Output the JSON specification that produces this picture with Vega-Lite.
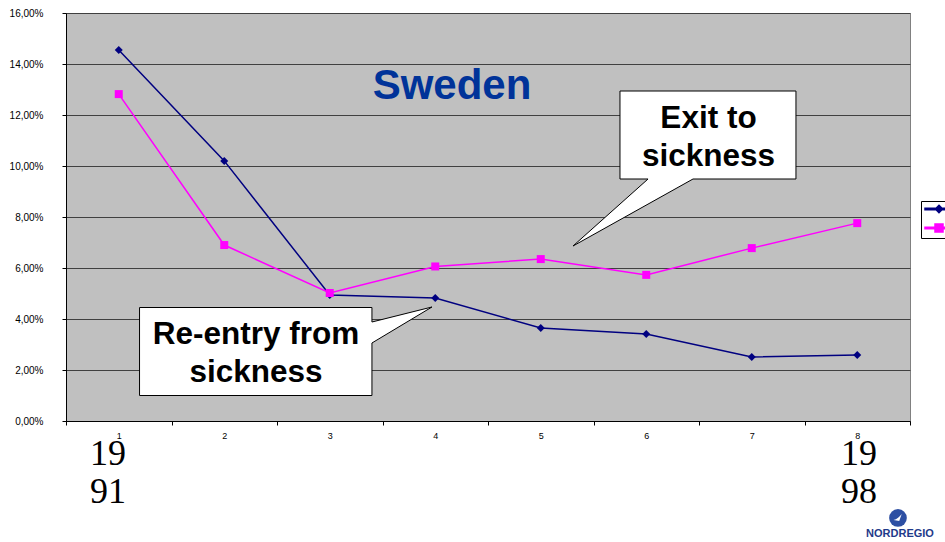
{
  "$schema": "https://vega.github.io/schema/vega-lite/v6.json",
  "width": 844,
  "height": 408,
  "autosize": {"type": "none"},
  "padding": {"left": 66, "top": 13, "right": 35, "bottom": 121},
  "background": "white",
  "config": {
    "locale": {"number": {"decimal": ",", "thousands": " ", "grouping": [3], "currency": ["", " kr"]}},
    "view": {"stroke": "#808080", "fill": "#C0C0C0", "strokeWidth": 1},
    "font": "Liberation Sans",
    "axis": {"labelFont": "Liberation Sans", "labelColor": "#000000", "domainColor": "#000000", "tickColor": "#000000"}
  },
  "datasets": {
    "series": [
      {"t": 1, "series": "Re-entry from sickness", "rate": 0.1455},
      {"t": 2, "series": "Re-entry from sickness", "rate": 0.1020},
      {"t": 3, "series": "Re-entry from sickness", "rate": 0.0494},
      {"t": 4, "series": "Re-entry from sickness", "rate": 0.0482},
      {"t": 5, "series": "Re-entry from sickness", "rate": 0.0365},
      {"t": 6, "series": "Re-entry from sickness", "rate": 0.0341},
      {"t": 7, "series": "Re-entry from sickness", "rate": 0.0251},
      {"t": 8, "series": "Re-entry from sickness", "rate": 0.0259},
      {"t": 1, "series": "Exit to sickness", "rate": 0.1282},
      {"t": 2, "series": "Exit to sickness", "rate": 0.0690},
      {"t": 3, "series": "Exit to sickness", "rate": 0.0502},
      {"t": 4, "series": "Exit to sickness", "rate": 0.0606},
      {"t": 5, "series": "Exit to sickness", "rate": 0.0635},
      {"t": 6, "series": "Exit to sickness", "rate": 0.0573},
      {"t": 7, "series": "Exit to sickness", "rate": 0.0678},
      {"t": 8, "series": "Exit to sickness", "rate": 0.0776}
    ],
    "callouts": [
      {"id": "exit", "i": 0, "px": 5.751, "py": 0.12941},
      {"id": "exit", "i": 1, "px": 7.419, "py": 0.12941},
      {"id": "exit", "i": 2, "px": 7.419, "py": 0.09490},
      {"id": "exit", "i": 3, "px": 6.443, "py": 0.09490},
      {"id": "exit", "i": 4, "px": 5.306, "py": 0.06863},
      {"id": "exit", "i": 5, "px": 6.017, "py": 0.09490},
      {"id": "exit", "i": 6, "px": 5.751, "py": 0.09490},
      {"id": "exit", "i": 7, "px": 5.751, "py": 0.12941},
      {"id": "reentry", "i": 0, "px": 1.197, "py": 0.04451},
      {"id": "reentry", "i": 1, "px": 3.400, "py": 0.04451},
      {"id": "reentry", "i": 2, "px": 3.400, "py": 0.03882},
      {"id": "reentry", "i": 3, "px": 3.969, "py": 0.04471},
      {"id": "reentry", "i": 4, "px": 3.400, "py": 0.03059},
      {"id": "reentry", "i": 5, "px": 3.400, "py": 0.01000},
      {"id": "reentry", "i": 6, "px": 1.197, "py": 0.01000},
      {"id": "reentry", "i": 7, "px": 1.197, "py": 0.04451}
    ],
    "notes": [
      {"kind": "title", "label": "Sweden", "px": 4.159, "py": 0.12627},
      {"kind": "callout", "label": "Exit to\nsickness", "px": 6.59, "py": 0.1149},
      {"kind": "callout", "label": "Re-entry from\nsickness", "px": 2.301, "py": 0.0302},
      {"kind": "year", "label": "19\n91", "px": 0.898, "py": -0.01725},
      {"kind": "year", "label": "19\n98", "px": 8.016, "py": -0.01725},
      {"kind": "logo", "label": "NORDREGIO", "px": 8.405, "py": -0.0455}
    ],
    "logo": [
      {"px": 8.386, "py": -0.038}
    ]
  },
  "layer": [
    {
      "data": {"name": "series"},
      "encoding": {
        "x": {
          "field": "t",
          "type": "ordinal",
          "scale": {"paddingInner": 0, "paddingOuter": 0},
          "axis": {"title": null, "labelAngle": 0, "tickBand": "extent", "tickSize": 4, "labelPadding": 6, "labelFontSize": 9, "grid": false}
        },
        "y": {
          "field": "rate",
          "type": "quantitative",
          "scale": {"domain": [0, 0.16]},
          "axis": {
            "title": null,
            "format": ".2%",
            "values": [0, 0.02, 0.04, 0.06, 0.08, 0.1, 0.12, 0.14, 0.16],
            "tickSize": 4,
            "labelPadding": 19,
            "labelFontSize": 10,
            "gridColor": "#404040",
            "gridWidth": 1,
            "gridOpacity": 1
          }
        },
        "color": {
          "field": "series",
          "type": "nominal",
          "scale": {"domain": ["Re-entry from sickness", "Exit to sickness"], "range": ["#000080", "#FF00FF"]},
          "legend": {
            "orient": "none",
            "legendX": 855,
            "legendY": 188,
            "title": null,
            "strokeColor": "#000000",
            "fillColor": "#FFFFFF",
            "padding": 3,
            "symbolSize": 64,
            "symbolOffset": 10,
            "labelExpr": "''",
            "labelOffset": 30,
            "labelFontSize": 8,
            "rowPadding": 5,
            "encode": {
              "symbols": {
                "update": {
                  "shape": {"signal": "datum.value == 'Exit to sickness' ? 'M-3.5,-0.19H3.5V0.19H-3.5ZM-1,-1H1V1H-1Z' : 'M-3.5,-0.19H3.5V0.19H-3.5ZM0,-0.9L0.9,0L0,0.9L-0.9,0Z'"},
                  "fill": {"scale": "color", "field": "value"},
                  "opacity": {"value": 1}
                }
              }
            }
          }
        }
      },
      "layer": [
        {"mark": {"type": "line", "strokeWidth": 1.5}},
        {
          "transform": [{"filter": "datum.series == 'Re-entry from sickness'"}],
          "mark": {"type": "point", "shape": "diamond", "filled": true, "opacity": 1, "size": 64}
        },
        {
          "transform": [{"filter": "datum.series == 'Exit to sickness'"}],
          "mark": {"type": "point", "shape": "square", "filled": true, "opacity": 1, "size": 64}
        }
      ]
    },
    {
      "encoding": {
        "x": {"field": "px", "type": "quantitative", "scale": {"domain": [0.5, 8.5], "nice": false, "zero": false}, "axis": null},
        "y": {"field": "py", "type": "quantitative", "scale": {"domain": [0, 0.16]}, "axis": {"title": null}}
      },
      "layer": [
        {
          "data": {"name": "callouts"},
          "mark": {"type": "line", "filled": true, "fill": "#FFFFFF", "stroke": "#000000", "strokeWidth": 1},
          "encoding": {
            "order": {"field": "i", "type": "quantitative"},
            "detail": {"field": "id", "type": "nominal"}
          }
        },
        {
          "data": {"name": "notes"},
          "transform": [{"filter": "datum.kind == 'title'"}],
          "mark": {"type": "text", "font": "Liberation Sans", "fontWeight": "bold", "fontSize": 42, "color": "#003399", "align": "center", "baseline": "alphabetic"},
          "encoding": {"text": {"field": "label"}}
        },
        {
          "data": {"name": "notes"},
          "transform": [{"filter": "datum.kind == 'callout'"}],
          "mark": {"type": "text", "font": "Liberation Sans", "fontWeight": "bold", "fontSize": 31.5, "color": "#000000", "align": "center", "baseline": "alphabetic", "lineBreak": "\n", "lineHeight": 38},
          "encoding": {"text": {"field": "label"}}
        },
        {
          "data": {"name": "notes"},
          "transform": [{"filter": "datum.kind == 'year'"}],
          "mark": {"type": "text", "font": "Liberation Serif", "fontSize": 36, "color": "#000000", "align": "center", "baseline": "alphabetic", "lineBreak": "\n", "lineHeight": 38},
          "encoding": {"text": {"field": "label"}}
        },
        {
          "data": {"name": "logo"},
          "mark": {"type": "point", "shape": "circle", "filled": true, "opacity": 1, "size": 314, "color": "#2D4FA3"}
        },
        {
          "data": {"name": "logo"},
          "mark": {"type": "point", "shape": "M-0.9,0.4C-0.2,0.25 0.3,-0.2 0.75,-0.8L0.25,0.6Z", "filled": true, "opacity": 1, "size": 100, "color": "#FFFFFF"}
        },
        {
          "data": {"name": "notes"},
          "transform": [{"filter": "datum.kind == 'logo'"}],
          "mark": {"type": "text", "font": "Liberation Sans", "fontWeight": "bold", "fontSize": 11, "color": "#1F3A8A", "align": "center", "baseline": "alphabetic"},
          "encoding": {"text": {"field": "label"}}
        }
      ]
    }
  ],
  "resolve": {"scale": {"x": "independent"}}
}
